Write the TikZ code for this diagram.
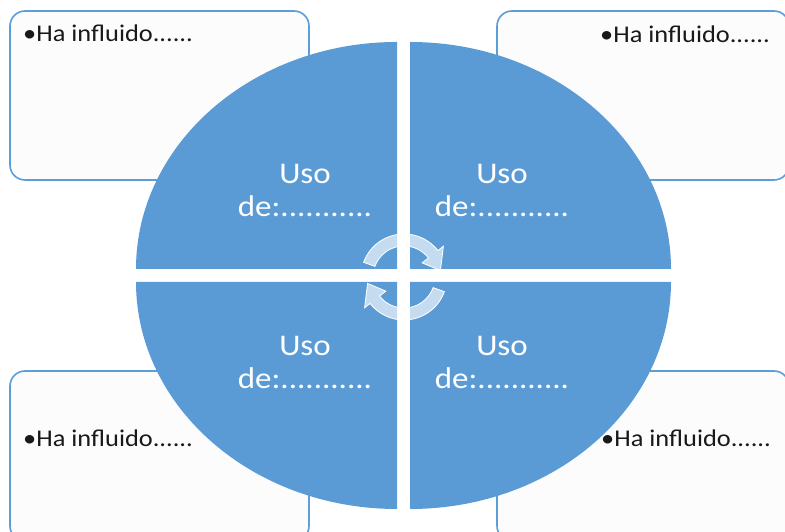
\documentclass[tikz,border=0pt]{standalone}
\usepackage{fontspec}
\setmainfont{Carlito}
\newfontfamily\widefont[FakeStretch=1.1]{Carlito}
\usepackage{tikz}
\usetikzlibrary{positioning}

\definecolor{quadblue}{HTML}{5B9BD5}
\definecolor{boxline}{HTML}{5F9DD6}
\definecolor{boxfill}{HTML}{FCFCFC}

\begin{document}
\begin{tikzpicture}[x=1pt, y=1pt,
    notebox/.style={draw=boxline, line width=1.6pt, fill=boxfill, rounded corners=15pt, inner sep=0pt},
    quad/.style={fill=quadblue},
    usotext/.style={text=white, align=center, font=\widefont\fontsize{30}{33}\selectfont},
    notetext/.style={anchor=base west, inner sep=0pt, text=black!90, font=\widefont\fontsize{24}{28}\selectfont},
    cyclearrow/.style={draw=white, line width=0.8pt, fill=white, fill opacity=0.65}]
\clip (0,0) rectangle (785,532);

% Corner boxes
\node[notebox, minimum width=299pt, minimum height=169pt] (b1) at (159.5,436.5) {};
\node[notebox, minimum width=292pt, minimum height=169pt] (b2) at (643,436.5) {};
\node[notebox, minimum width=299pt, minimum height=170pt] (b3) at (159.5,76) {};
\node[notebox, minimum width=292pt, minimum height=170pt] (b4) at (643,76) {};

% Quadrants
\foreach \cx/\cy/\a in {397/263/90, 410/263/0, 397/250/180, 410/250/270} {
    \fill[quad] (\cx,\cy) -- ++({261*cos(\a)},{227*sin(\a)})
        arc[start angle=\a, end angle=\a+90, x radius=261, y radius=227] -- cycle;
}

% Cycle arrows
\foreach \r in {0,180} {
    \draw[cyclearrow, shift={(404,255)}, rotate=\r] (160:43)
        arc[start angle=160, end angle=38, radius=43] -- (38:50) -- (10:37) -- (38:23) -- (38:31)
        arc[start angle=38, end angle=160, radius=31] -- cycle;
}

% Quadrant labels
\node[usotext] (u1) at (305,342) {Uso\\de:...........};
\node[usotext] (u2) at (502,342) {Uso\\de:...........};
\node[usotext] (u3) at (305,170) {Uso\\de:...........};
\node[usotext] (u4) at (502,170) {Uso\\de:...........};

% Box labels
\node[notetext] (h1) at (23,490) {•Ha influido......};
\node[notetext] (h2) at (600,489) {•Ha influido......};
\node[notetext] (h3) at (23,85) {•Ha influido......};
\node[notetext] (h4) at (601,85) {•Ha influido......};

\end{tikzpicture}
\end{document}
